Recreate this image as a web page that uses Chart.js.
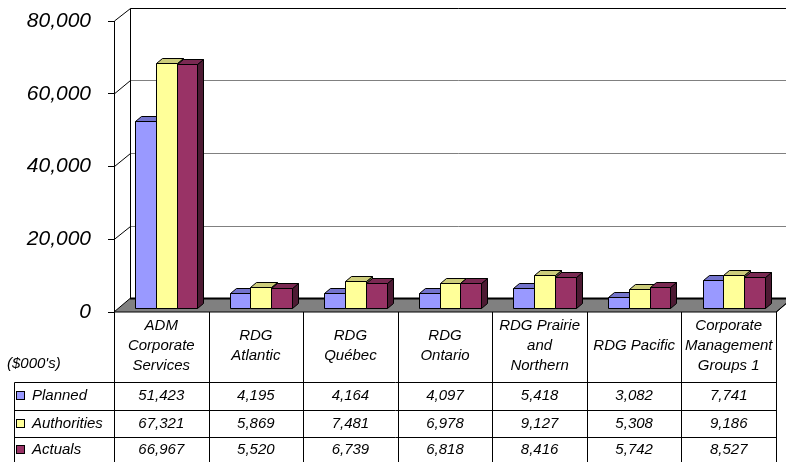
<!DOCTYPE html>
<html>
<head>
<meta charset="utf-8">
<script src="https://cdn.jsdelivr.net/npm/chart.js@4.4.1/dist/chart.umd.min.js"></script>
<style>
  html, body { margin: 0; padding: 0; background: #fff; }
</style>
</head>
<body>
<canvas id="myChart" width="786" height="462"></canvas>
<script>
// categories (multi-line labels) and the three series, $000's
const categories = [
  ["ADM", "Corporate", "Services"],
  ["RDG", "Atlantic"],
  ["RDG", "Québec"],
  ["RDG", "Ontario"],
  ["RDG Prairie", "and", "Northern"],
  ["RDG Pacific"],
  ["Corporate", "Management", "Groups 1"]
];
const seriesNames = ["Planned", "Authorities", "Actuals"];
const planned = [51423, 4195, 4164, 4097, 5418, 3082, 7741];
const authorities = [67321, 5869, 7481, 6978, 9127, 5308, 9186];
const actuals = [66967, 5520, 6739, 6818, 8416, 5742, 8527];
const yTicks = [0, 20000, 40000, 60000, 80000];
const unitLabel = "($000's)";

const faceColors = ["#9999FF", "#FFFF99", "#993366"];
const topColors = ["#7373CC", "#CCCC7A", "#7A2952"];
const sideColors = ["#4D4D80", "#80804D", "#4D1A33"];

const FONT = "'Liberation Sans', Arial, sans-serif";
const wallDX = 16, wallDY = -13.5;  // back wall depth
const barDX = 5, barDY = -4;        // bars sit a little behind the front plane
const depthX = 6, depthY = -5;      // thickness of each bar

function line(ctx, x1, y1, x2, y2) {
  ctx.beginPath();
  ctx.moveTo(x1, y1);
  ctx.lineTo(x2, y2);
  ctx.stroke();
}

function poly(ctx, pts, fill) {
  ctx.beginPath();
  ctx.moveTo(pts[0][0], pts[0][1]);
  for (let i = 1; i < pts.length; i++) ctx.lineTo(pts[i][0], pts[i][1]);
  ctx.closePath();
  ctx.fillStyle = fill;
  ctx.fill();
  ctx.stroke();
}

const chart3d = {
  id: 'chart3d',
  beforeDraw(chart) {
    const ctx = chart.ctx;
    const a = chart.chartArea;
    const ys = chart.scales.y;
    const bx = a.left + wallDX + 0.5;
    ctx.save();
    ctx.fillStyle = '#fff';
    ctx.fillRect(0, 0, chart.width, chart.height);
    ctx.lineWidth = 1;

    // back wall gridlines and the matching lines on the side wall
    yTicks.forEach(function (v) {
      if (v === 0) return;
      const fy = ys.getPixelForValue(v);
      const by = Math.round(fy + wallDY) + 0.5;
      ctx.strokeStyle = v === yTicks[yTicks.length - 1] ? '#000' : '#808080';
      line(ctx, bx, by, chart.width, by);
      ctx.strokeStyle = '#000';
      line(ctx, a.left + 0.5, fy, bx, by);
    });
    const wallTop = Math.round(ys.getPixelForValue(yTicks[yTicks.length - 1]) + wallDY) + 0.5;
    const floorBack = a.bottom + wallDY;
    ctx.strokeStyle = '#000';
    line(ctx, bx, wallTop, bx, floorBack);

    // floor
    ctx.strokeStyle = '#000';
    poly(ctx, [[a.left, a.bottom], [a.right, a.bottom],
               [a.right + wallDX, floorBack], [a.left + wallDX, floorBack]], '#808080');
    ctx.lineWidth = 2;
    line(ctx, a.left + wallDX, floorBack, chart.width, floorBack);
    ctx.restore();
  },
  beforeDatasetsDraw(chart) {
    const ctx = chart.ctx;
    ctx.save();
    ctx.strokeStyle = '#000';
    ctx.lineWidth = 1;
    for (let i = 0; i < categories.length; i++) {
      for (let d = 0; d < chart.data.datasets.length; d++) {
        const el = chart.getDatasetMeta(d).data[i];
        const p = el.getProps(['x', 'y', 'base', 'width'], true);
        const l = Math.round(p.x - p.width / 2 + barDX) + 0.5;
        const r = Math.round(p.x + p.width / 2 + barDX) + 0.5;
        const t = Math.round(p.y + barDY) + 0.5;
        const b = Math.round(p.base + barDY) + 0.5;
        // side, top, then the front face
        poly(ctx, [[r, t], [r + depthX, t + depthY], [r + depthX, b + depthY], [r, b]], sideColors[d]);
        poly(ctx, [[l, t], [r, t], [r + depthX, t + depthY], [l + depthX, t + depthY]], topColors[d]);
        poly(ctx, [[l, t], [r, t], [r, b], [l, b]], faceColors[d]);
      }
    }
    ctx.restore();
    return false;
  },
  afterDraw(chart) {
    const ctx = chart.ctx;
    const a = chart.chartArea;
    const xs = chart.scales.x;
    const n = categories.length;
    const colW = (xs.right - xs.left) / n;
    const headBottom = 382.5;
    const rowLines = [headBottom, 410.5, 437.5];
    const rowMid = [396, 424, 450];
    const legendLeft = 14.5;
    const series = [planned, authorities, actuals];

    ctx.save();
    ctx.strokeStyle = '#000';
    ctx.lineWidth = 1;
    for (let i = 0; i <= n; i++) {
      const px = Math.round(xs.left + i * colW) + 0.5;
      line(ctx, px, a.bottom, px, chart.height);
    }
    rowLines.forEach(function (ry) { line(ctx, legendLeft, ry, xs.right + 0.5, ry); });
    line(ctx, legendLeft, headBottom, legendLeft, chart.height);
    // right edge of the floor
    line(ctx, xs.right + 0.5, a.bottom, xs.right + wallDX, a.bottom + wallDY);

    ctx.fillStyle = '#000';
    ctx.font = 'italic 15px ' + FONT;
    ctx.textBaseline = 'middle';
    ctx.textAlign = 'left';
    ctx.fillText(unitLabel, 7, 364);

    series.forEach(function (vals, d) {
      // legend key
      ctx.fillStyle = faceColors[d];
      ctx.fillRect(16.5, rowMid[d] - 4.5, 8, 8);
      ctx.strokeRect(16.5, rowMid[d] - 4.5, 8, 8);
      ctx.fillStyle = '#000';
      ctx.textAlign = 'left';
      ctx.fillText(seriesNames[d], 32, rowMid[d]);
      ctx.textAlign = 'center';
      vals.forEach(function (v, i) {
        ctx.fillText(v.toLocaleString('en-US'), xs.getPixelForValue(i), rowMid[d]);
      });
    });
    ctx.restore();
  }
};

new Chart("myChart", {
  type: "bar",
  data: {
    labels: categories,
    datasets: [
      { label: seriesNames[0], data: planned, backgroundColor: faceColors[0] },
      { label: seriesNames[1], data: authorities, backgroundColor: faceColors[1] },
      { label: seriesNames[2], data: actuals, backgroundColor: faceColors[2] }
    ]
  },
  options: {
    responsive: false,
    animation: false,
    layout: { padding: { top: 21, right: 10, left: 0, bottom: 0 } },
    datasets: { bar: { categoryPercentage: 0.66, barPercentage: 1.0 } },
    plugins: { legend: { display: false }, tooltip: { enabled: false } },
    scales: {
      x: {
        afterFit: function (scale) { scale.height = 150; },
        grid: { display: false },
        border: { display: false },
        ticks: {
          color: '#000',
          font: { family: FONT, size: 15, style: 'italic', lineHeight: '20px' },
          crossAlign: 'center',
          padding: 6,
          maxRotation: 0,
          autoSkip: false
        }
      },
      y: {
        min: 0,
        max: 80000,
        afterFit: function (scale) {
          scale.width = 114;
          scale.paddingTop = 0;
          scale.paddingBottom = 0;
        },
        afterBuildTicks: function (scale) { scale.ticks = yTicks.map(v => ({ value: v })); },
        grid: { drawOnChartArea: false, drawTicks: true, tickLength: 6, color: '#000' },
        border: { display: true, color: '#000' },
        ticks: {
          color: '#000',
          padding: 17,
          font: { family: FONT, size: 21, style: 'italic' },
          callback: function (v) { return v.toLocaleString('en-US'); }
        }
      }
    }
  },
  plugins: [chart3d]
});
</script>
</body>
</html>
